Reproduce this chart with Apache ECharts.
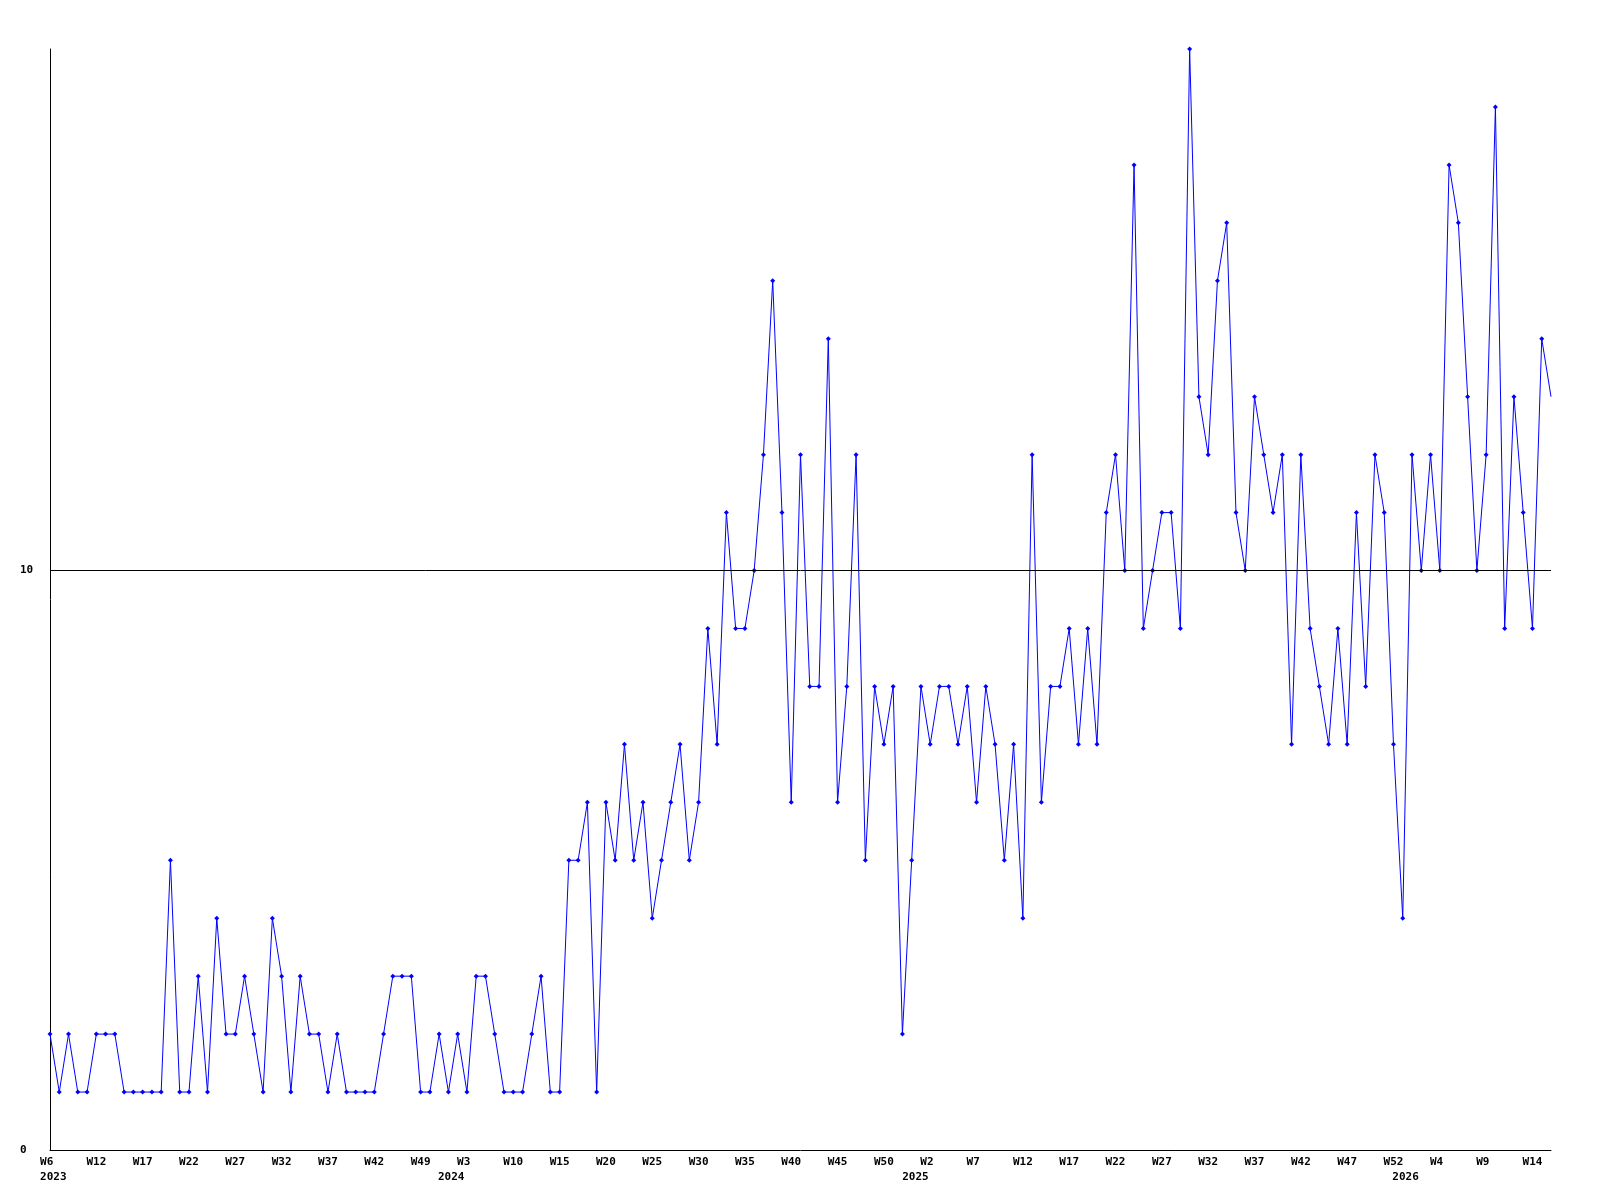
<!DOCTYPE html>
<html>
<head>
<meta charset="utf-8">
<script src="https://cdn.jsdelivr.net/npm/echarts@6/dist/echarts.min.js"></script>
<style>
html,body{margin:0;padding:0;background:#fff;}
#chart{width:1600px;height:1200px;}
</style>
</head>
<body>
<div id="chart"></div>
<script>
// Weekly values, 2023 W6 .. 2026 W15 (163 points)
const values = [
  2,1,2,1,1,2,2,2,1,1,1,1,1,5,1,1,3,1,4,2,2,3,2,1,4,3,1,3,
  2,2,1,2,1,1,1,1,2,3,3,3,1,1,2,1,2,1,3,3,2,1,1,1,2,3,1,1,
  5,5,6,1,6,5,7,5,6,4,5,6,7,5,6,9,7,11,9,9,10,12,15,11,6,12,8,8,
  14,6,8,12,5,8,7,8,2,5,8,7,8,8,7,8,6,8,7,5,7,4,12,6,8,8,9,7,
  9,7,11,12,10,17,9,10,11,11,9,19,13,12,15,16,11,10,13,12,11,12,7,12,9,8,7,9,
  7,11,8,12,11,7,4,12,10,12,10,17,16,13,10,12,18,9,13,11,9,14,13
];
// Week tick labels, one every 5th point
const weekTicks = ['W6','W12','W17','W22','W27','W32','W37','W42','W49','W3','W10','W15','W20','W25','W30','W35','W40','W45','W50','W2','W7','W12','W17','W22','W27','W32','W37','W42','W47','W52','W4','W9','W14'];
// Year labels and their positions along the point index scale
const yearLabels = ['2023','2024','2025','2026'];
const yearTicks = [0.36, 43.3, 93.4, 146.3];
const refValue = 10;

const categories = values.map((v, i) => String(i));
// the last (current, partial) week is drawn without a marker
const seriesData = values.map((v, i) => i === values.length - 1 ? {value: v, symbol: 'none'} : v);

const chart = echarts.init(document.getElementById('chart'), null, {renderer: 'canvas'});
const font = {fontFamily: '"DejaVu Sans Mono", "Liberation Mono", monospace', fontWeight: 'bold', fontSize: 11, color: '#000'};

chart.setOption({
  animation: false,
  backgroundColor: '#fff',
  grid: {left: 50, right: 49, top: 49, bottom: 50, containLabel: false},
  xAxis: [
    {
      type: 'category',
      data: categories,
      boundaryGap: false,
      axisLine: {show: true, lineStyle: {color: '#000', width: 1}},
      axisTick: {show: false},
      splitLine: {show: false},
      axisLabel: Object.assign({
        interval: 4,
        margin: 7,
        formatter: (val, idx) => (weekTicks[Math.round(idx / 5)] || '').padEnd(3, ' ')
      }, font)
    },
    {
      type: 'value',
      min: 0,
      max: values.length - 1,
      position: 'bottom',
      offset: 15,
      axisLine: {show: false},
      axisTick: {show: false},
      splitLine: {show: false},
      axisLabel: Object.assign({
        margin: 7,
        customValues: yearTicks,
        formatter: (val) => {
          const k = yearTicks.findIndex(t => Math.abs(t - val) < 1e-6);
          return k >= 0 ? yearLabels[k] : '';
        }
      }, font)
    }
  ],
  yAxis: {
    type: 'value',
    min: 0,
    max: 19,
    interval: 10,
    axisLine: {show: true, lineStyle: {color: '#000', width: 1}},
    axisTick: {show: false},
    splitLine: {show: false},
    axisLabel: Object.assign({align: 'left', margin: 30, showMaxLabel: false}, font)
  },
  series: [{
    type: 'line',
    data: seriesData,
    xAxisIndex: 0,
    symbol: 'diamond',
    symbolSize: 5,
    showAllSymbol: true,
    lineStyle: {color: '#0000ff', width: 1},
    itemStyle: {color: '#0000ff'},
    markLine: {
      silent: true,
      symbol: 'none',
      label: {show: false},
      lineStyle: {color: '#000', width: 1, type: 'solid'},
      data: [{yAxis: refValue}]
    }
  }]
});
</script>
</body>
</html>
